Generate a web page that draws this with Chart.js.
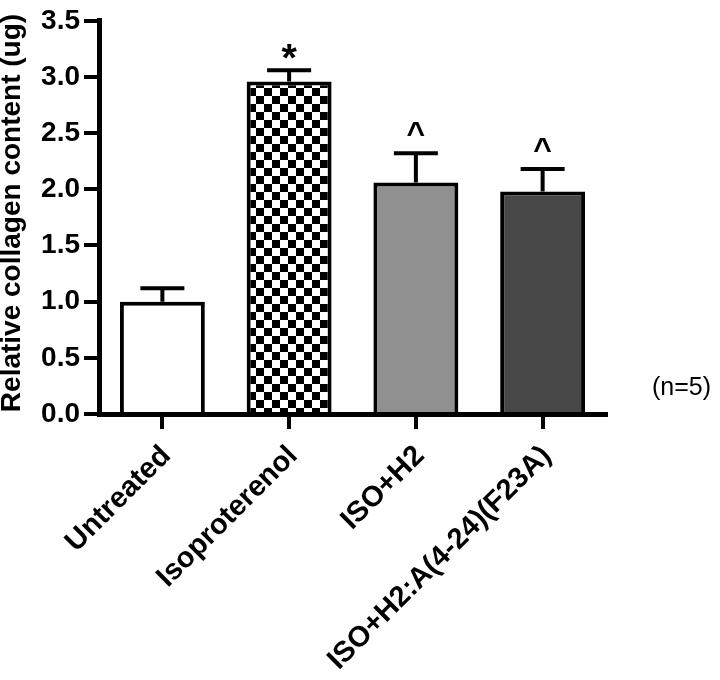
<!DOCTYPE html>
<html>
<head>
<meta charset="utf-8">
<script src="https://cdn.jsdelivr.net/npm/chart.js@4/dist/chart.umd.min.js"></script>
<style>
html,body{margin:0;padding:0;background:#fff;}
#wrap{width:720px;height:680px;position:relative;}
</style>
</head>
<body>
<div id="wrap"><canvas id="c" width="720" height="680"></canvas></div>
<script>
const categories = ['Untreated', 'Isoproterenol', 'ISO+H2', 'ISO+H2:A(4-24)(F23A)'];
const means = [1.00, 2.96, 2.06, 1.98];
const errors = [0.12, 0.10, 0.26, 0.20];
const marks = ['', '*', '^', '^'];
const yMin = 0, yMax = 3.5, yStep = 0.5;
const yTitle = 'Relative collagen content (ug)';
const note = '(n=5)';

const FONT = "'Liberation Sans', Arial, Helvetica, sans-serif";

function checker(size) {
  const c = document.createElement('canvas');
  c.width = size * 2; c.height = size * 2;
  const g = c.getContext('2d');
  g.fillStyle = '#fff'; g.fillRect(0, 0, size * 2, size * 2);
  g.fillStyle = '#000';
  g.fillRect(0, 0, size, size);
  g.fillRect(size, size, size, size);
  return document.getElementById('c').getContext('2d').createPattern(c, 'repeat');
}
const fills = ['#ffffff', checker(8), '#909090', '#474747'];

// draw a glyph so that its visible box has a given height and its bottom sits at yBottom
function drawGlyph(ctx, ch, x, yBottom, targetH) {
  ctx.font = 'bold 100px ' + FONT;
  let m = ctx.measureText(ch);
  const h100 = m.actualBoundingBoxAscent + m.actualBoundingBoxDescent;
  const size = 100 * targetH / h100;
  ctx.font = 'bold ' + size.toFixed(2) + 'px ' + FONT;
  m = ctx.measureText(ch);
  ctx.textAlign = 'center';
  ctx.textBaseline = 'alphabetic';
  ctx.fillText(ch, x, yBottom - m.actualBoundingBoxDescent);
}

const errorPlugin = {
  id: 'errs',
  afterDatasetsDraw(chart) {
    const ctx = chart.ctx;
    const meta = chart.getDatasetMeta(0);
    const y = chart.scales.y;
    ctx.save();
    ctx.strokeStyle = '#000';
    ctx.lineWidth = 4;
    meta.data.forEach((bar, i) => {
      const x = bar.x;
      const top = y.getPixelForValue(means[i]);
      const cap = y.getPixelForValue(means[i] + errors[i]);
      ctx.beginPath();
      ctx.moveTo(x, top); ctx.lineTo(x, cap);
      ctx.moveTo(x - 22, cap); ctx.lineTo(x + 22, cap);
      ctx.stroke();
      if (marks[i]) {
        ctx.fillStyle = '#000';
        if (marks[i] === '*') drawGlyph(ctx, '*', x, cap - 11, 15);
        else drawGlyph(ctx, marks[i], x, cap - 17, 14);
      }
    });
    ctx.restore();
  }
};

const textPlugin = {
  id: 'texts',
  afterDraw(chart) {
    const ctx = chart.ctx;
    ctx.save();
    ctx.fillStyle = '#000';
    ctx.font = 'bold 28px ' + FONT;
    ctx.textAlign = 'center';
    ctx.textBaseline = 'middle';
    ctx.translate(12, 213);
    ctx.rotate(-Math.PI / 2);
    ctx.fillText(yTitle, 0, 0);
    ctx.restore();
    ctx.save();
    ctx.fillStyle = '#000';
    ctx.font = '25px ' + FONT;
    ctx.textAlign = 'left';
    ctx.textBaseline = 'alphabetic';
    ctx.fillText(note, 652, 395);
    ctx.restore();
  }
};

new Chart(document.getElementById('c'), {
  type: 'bar',
  data: {
    labels: categories,
    datasets: [{
      data: means,
      backgroundColor: fills,
      borderColor: '#000',
      borderWidth: 4,
      borderSkipped: 'bottom',
      barPercentage: 0.67,
      categoryPercentage: 1.0
    }]
  },
  options: {
    responsive: false,
    animation: false,
    devicePixelRatio: 1,
    layout: { padding: { left: 0, right: 114, top: 12, bottom: 0 } },
    plugins: { legend: { display: false }, tooltip: { enabled: false } },
    scales: {
      x: {
        z: 1,
        grid: { display: true, drawOnChartArea: false, drawTicks: true, tickLength: 15, lineWidth: 4, color: '#000', offset: false },
        border: { display: true, width: 5, color: '#000' },
        ticks: {
          autoSkip: false, maxRotation: 45, minRotation: 45, padding: 10, labelOffset: 4,
          color: '#000', font: { family: FONT, size: 29, weight: 'bold' }
        },
        afterFit(s) { s.height = 266; }
      },
      y: {
        z: 1,
        min: yMin, max: yMax,
        grid: { display: true, drawOnChartArea: false, drawTicks: true, tickLength: 15, lineWidth: 4, color: '#000' },
        border: { display: true, width: 5, color: '#000' },
        ticks: {
          stepSize: yStep, padding: 4, color: '#000',
          font: { family: FONT, size: 28, weight: 'bold' },
          callback: v => Number(v).toFixed(1)
        },
        afterFit(s) { s.width = 99; }
      }
    }
  },
  plugins: [errorPlugin, textPlugin]
});
</script>
</body>
</html>
